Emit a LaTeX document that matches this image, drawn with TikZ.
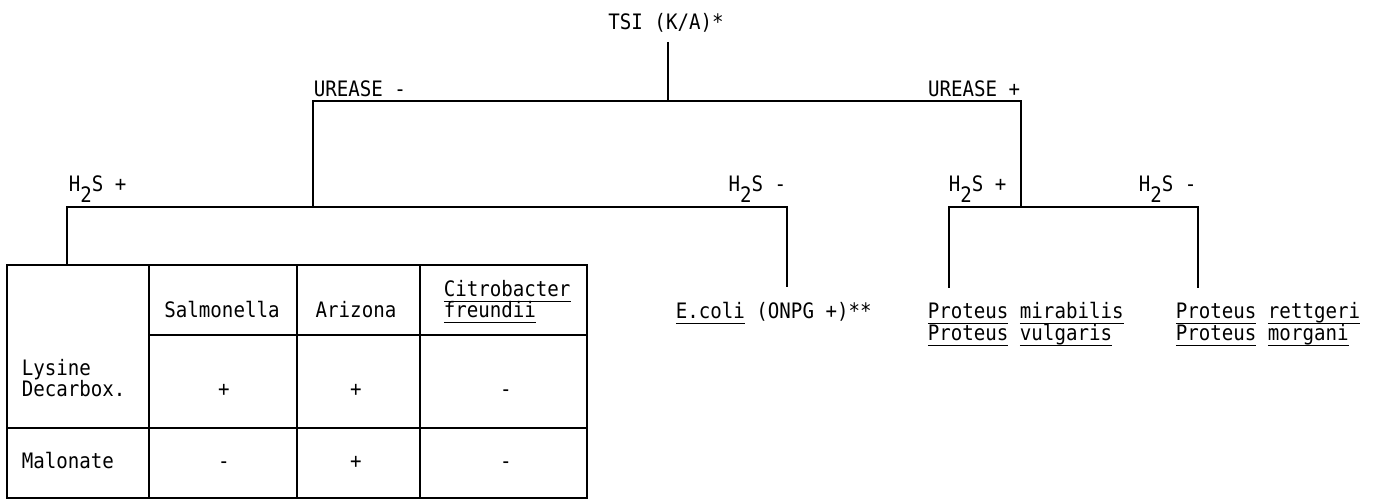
\documentclass[tikz,border=0pt]{standalone}
\usepackage{fontspec}
\newfontfamily\typefont{DejaVu Sans Mono}[FakeStretch=0.9]
\newcommand\hts{H\raisebox{-6pt}{2}S}
\newcommand\ul[1]{\setbox0=\hbox{#1}\rlap{\rule[-3pt]{\wd0}{0.8pt}}\box0\relax}
\begin{document}
\begin{tikzpicture}[x=0.02cm,y=-0.02cm,line width=0.9pt,
  every node/.style={inner sep=0pt,font=\typefont\fontsize{12.1pt}{13pt}\selectfont},
  lab/.style={anchor=base west},labr/.style={anchor=base east},cell/.style={anchor=base}]
\useasboundingbox (0,0) rectangle (1378,499);
% root and urease split
\node[anchor=base] (tsi) at (666,30) {TSI (K/A)*};
\coordinate (t0) at (668,42);
\coordinate (u) at (668,101);
\coordinate (ul) at (313,101);
\coordinate (ur) at (1021,101);
\coordinate (hl) at (313,207);
\coordinate (hr) at (1021,207);
\draw (t0) -- (u);
\draw (hl) -- (ul) -- (ur) -- (hr);
\node[lab] (ureneg) at (313,97) {UREASE -};
\node[labr] (urepos) at (1021,97) {UREASE +};
% H2S split, urease negative
\coordinate (a1) at (67,207);
\coordinate (a2) at (787,207);
\coordinate (tab) at (67,265);
\coordinate (a3) at (787,287);
\draw (tab) -- (a1) -- (a2) -- (a3);
\node[lab] (hpl) at (68,192) {\hts\ +};
\node[labr] (hnl) at (787,192) {\hts\ -};
% H2S split, urease positive
\coordinate (b1) at (949,207);
\coordinate (b2) at (1198,207);
\coordinate (b3) at (949,288);
\coordinate (b4) at (1198,288);
\draw (b3) -- (b1) -- (b2) -- (b4);
\node[lab] (hpr) at (948,192) {\hts\ +};
\node[lab] (hnr) at (1138,192) {\hts\ -};
% leaves
\node[lab] (ecoli) at (675,319) {\ul{E.coli} (ONPG +)**};
\node[lab] (mir) at (927,319) {\ul{Proteus} \ul{mirabilis}};
\node[lab] (vul) at (927,341) {\ul{Proteus} \ul{vulgaris}};
\node[lab] (ret) at (1175,319) {\ul{Proteus} \ul{rettgeri}};
\node[lab] (mor) at (1175,341) {\ul{Proteus} \ul{morgani}};
% table
\draw (7,265) rectangle (587,498);
\foreach \x in {149,297,420} \draw (\x,265) -- (\x,498);
\draw (149,335) -- (587,335);
\draw (7,428) -- (587,428);
\node[cell] (salm) at (222,318) {Salmonella};
\node[cell] (ariz) at (356,318) {Arizona};
\node[lab] (citro) at (443,297) {\ul{Citrobacter}};
\node[lab] (freu) at (443,318) {\ul{freundii}};
\node[lab] (lys) at (21,376) {Lysine};
\node[lab] (dec) at (21,397) {Decarbox.};
\node[lab] (mal) at (21,468) {Malonate};
\foreach \x/\a/\b [count=\i] in {224/+/-,356/+/+,506/-/-}{
  \node[cell] (ly\i) at (\x,397) {\a};
  \node[cell] (ma\i) at (\x,468) {\b};
}
\end{tikzpicture}
\end{document}
